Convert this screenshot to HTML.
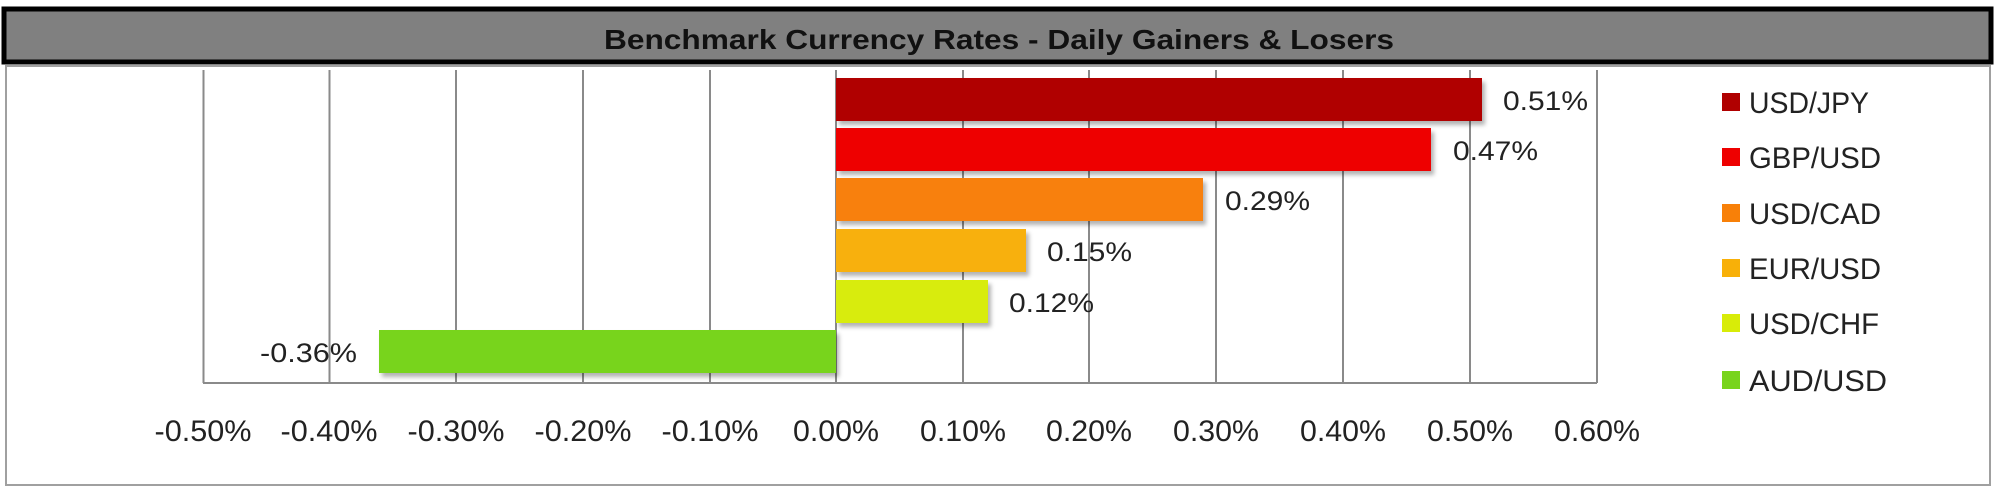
<!DOCTYPE html>
<html><head><meta charset="utf-8"><style>html,body{margin:0;padding:0;background:#fff}svg{display:block}</style></head>
<body>
<svg width="1995" height="494" viewBox="0 0 1995 494" xmlns="http://www.w3.org/2000/svg" font-family="Liberation Sans, sans-serif">
<defs><filter id="sh" x="-5%" y="-20%" width="110%" height="150%"><feDropShadow dx="3" dy="4" stdDeviation="2" flood-color="#000" flood-opacity="0.3"/></filter></defs>
<rect x="0" y="0" width="1995" height="494" fill="#fff"/>
<rect x="6" y="66" width="1984" height="419" fill="#fff" stroke="#a0a0a0" stroke-width="2"/>
<rect x="4" y="9" width="1987" height="53" fill="#808080" stroke="#000" stroke-width="5"/>
<text x="604" y="49" font-size="28" font-weight="bold" fill="#111" textLength="790" lengthAdjust="spacingAndGlyphs">Benchmark Currency Rates - Daily Gainers &amp; Losers</text>
<g stroke="#8a8a8a" stroke-width="2">
<line x1="203.5" y1="70" x2="203.5" y2="383"/>
<line x1="329.5" y1="70" x2="329.5" y2="383"/>
<line x1="456" y1="70" x2="456" y2="383"/>
<line x1="583" y1="70" x2="583" y2="383"/>
<line x1="710" y1="70" x2="710" y2="383"/>
<line x1="836" y1="70" x2="836" y2="383"/>
<line x1="963" y1="70" x2="963" y2="383"/>
<line x1="1089" y1="70" x2="1089" y2="383"/>
<line x1="1216" y1="70" x2="1216" y2="383"/>
<line x1="1343" y1="70" x2="1343" y2="383"/>
<line x1="1470" y1="70" x2="1470" y2="383"/>
<line x1="1597" y1="70" x2="1597" y2="383"/>
<line x1="203" y1="383" x2="1597" y2="383"/>
</g>
<g filter="url(#sh)">
<rect x="836" y="78" width="646" height="43" fill="#b00000"/>
<rect x="836" y="128" width="595" height="43" fill="#ee0000"/>
<rect x="836" y="178" width="367" height="43" fill="#f88008"/>
<rect x="836" y="229" width="190" height="43" fill="#f8b008"/>
<rect x="836" y="280" width="152" height="43" fill="#d8ec08"/>
<rect x="379" y="330" width="457" height="43" fill="#78d41c"/>
</g>
<g font-size="27" fill="#222">
<text x="1503" y="110" textLength="85" lengthAdjust="spacingAndGlyphs">0.51%</text>
<text x="1453" y="160" textLength="85" lengthAdjust="spacingAndGlyphs">0.47%</text>
<text x="1225" y="210" textLength="85" lengthAdjust="spacingAndGlyphs">0.29%</text>
<text x="1047" y="261" textLength="85" lengthAdjust="spacingAndGlyphs">0.15%</text>
<text x="1009" y="312" textLength="85" lengthAdjust="spacingAndGlyphs">0.12%</text>
<text x="260" y="362" textLength="97" lengthAdjust="spacingAndGlyphs">-0.36%</text>
</g>
<g font-size="30" fill="#222" text-anchor="middle">
<text x="203" y="441" textLength="97" lengthAdjust="spacingAndGlyphs">-0.50%</text>
<text x="329" y="441" textLength="97" lengthAdjust="spacingAndGlyphs">-0.40%</text>
<text x="456" y="441" textLength="97" lengthAdjust="spacingAndGlyphs">-0.30%</text>
<text x="583" y="441" textLength="97" lengthAdjust="spacingAndGlyphs">-0.20%</text>
<text x="710" y="441" textLength="97" lengthAdjust="spacingAndGlyphs">-0.10%</text>
<text x="836" y="441" textLength="86" lengthAdjust="spacingAndGlyphs">0.00%</text>
<text x="963" y="441" textLength="86" lengthAdjust="spacingAndGlyphs">0.10%</text>
<text x="1089" y="441" textLength="86" lengthAdjust="spacingAndGlyphs">0.20%</text>
<text x="1216" y="441" textLength="86" lengthAdjust="spacingAndGlyphs">0.30%</text>
<text x="1343" y="441" textLength="86" lengthAdjust="spacingAndGlyphs">0.40%</text>
<text x="1470" y="441" textLength="86" lengthAdjust="spacingAndGlyphs">0.50%</text>
<text x="1597" y="441" textLength="86" lengthAdjust="spacingAndGlyphs">0.60%</text>
</g>
<rect x="1722" y="93" width="18" height="18" fill="#b00000"/>
<rect x="1722" y="148" width="18" height="18" fill="#ee0000"/>
<rect x="1722" y="204" width="18" height="18" fill="#f88008"/>
<rect x="1722" y="259" width="18" height="18" fill="#f8b008"/>
<rect x="1722" y="314" width="18" height="18" fill="#d8ec08"/>
<rect x="1722" y="371" width="18" height="18" fill="#78d41c"/>
<g font-size="30" fill="#222">
<text x="1749" y="113" textLength="120" lengthAdjust="spacingAndGlyphs">USD/JPY</text>
<text x="1749" y="168" textLength="132" lengthAdjust="spacingAndGlyphs">GBP/USD</text>
<text x="1749" y="224" textLength="132" lengthAdjust="spacingAndGlyphs">USD/CAD</text>
<text x="1749" y="279" textLength="132" lengthAdjust="spacingAndGlyphs">EUR/USD</text>
<text x="1749" y="334" textLength="130" lengthAdjust="spacingAndGlyphs">USD/CHF</text>
<text x="1749" y="391" textLength="138" lengthAdjust="spacingAndGlyphs">AUD/USD</text>
</g>
</svg>
</body></html>
